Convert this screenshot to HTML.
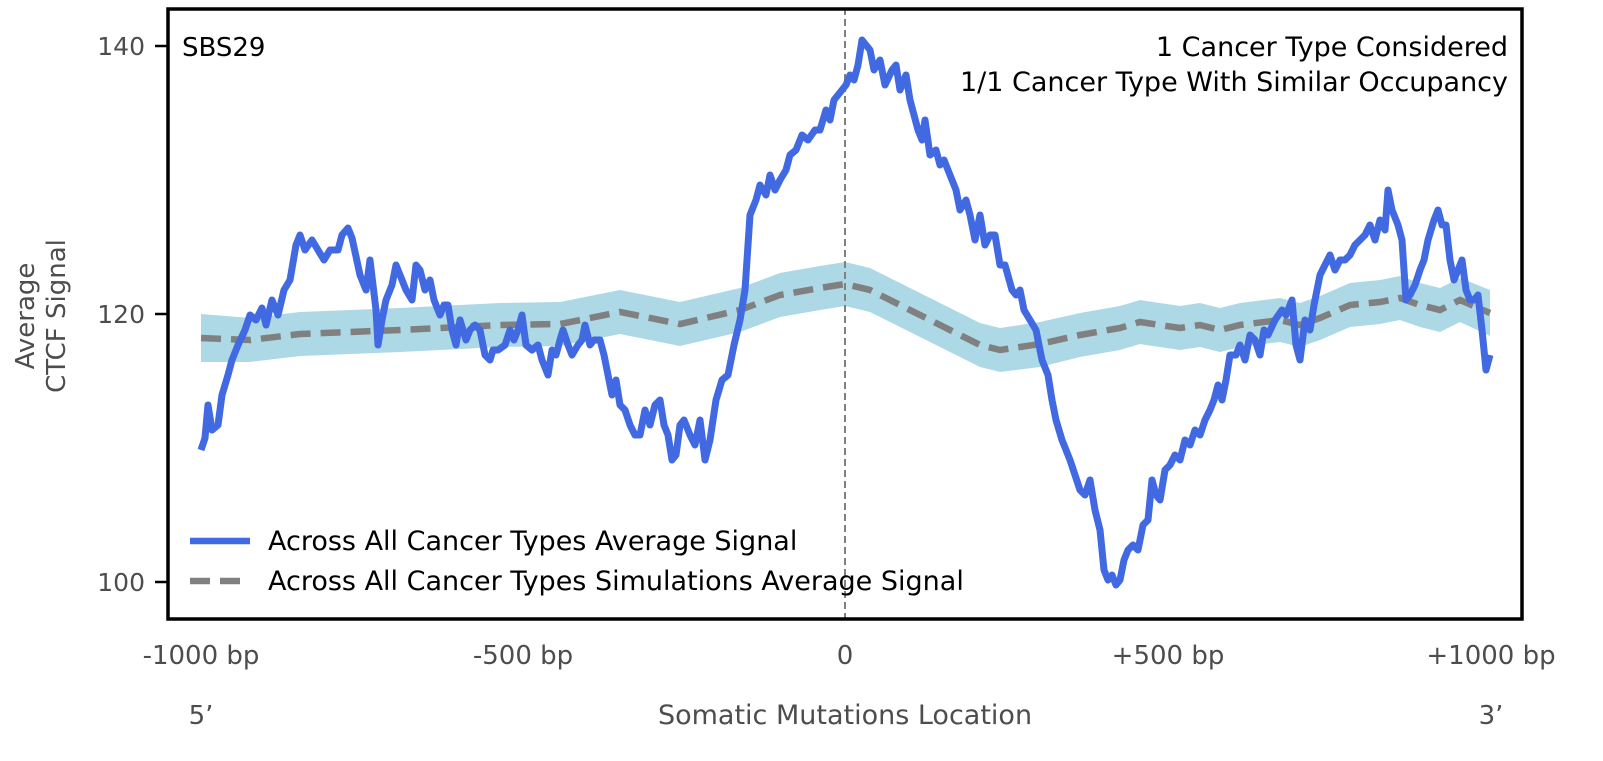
<!DOCTYPE html>
<html><head><meta charset="utf-8"><style>
html,body{margin:0;padding:0;background:#fff;}
svg text{font-family:"DejaVu Sans","Liberation Sans",sans-serif;}
</style></head><body>
<svg width="1603" height="756" viewBox="0 0 1603 756" xmlns="http://www.w3.org/2000/svg">
<rect width="1603" height="756" fill="#fff"/>
<path fill="#add8e6" d="M201,314 L250,318 L300,312 L400,308 L500,303 L560,302 L620,290 L680,302 L740,288 L780,273 L820,266 L845,262 L870,268 L900,283 L940,303 L980,323 L1000,328 L1040,322 L1080,313 L1120,306 L1140,300 L1180,306 L1200,303 L1220,308 L1240,303 L1280,298 L1300,303 L1320,296 L1350,283 L1380,280 L1400,276 L1420,283 L1440,288 L1460,278 L1490,290 L1490,336 L1460,322 L1440,332 L1420,327 L1400,320 L1380,324 L1350,327 L1320,340 L1300,347 L1280,342 L1240,347 L1220,352 L1200,347 L1180,350 L1140,344 L1120,350 L1080,357 L1040,367 L1000,372 L980,367 L940,347 L900,327 L870,312 L845,306 L820,310 L780,317 L740,332 L680,346 L620,334 L560,346 L500,347 L400,352 L300,356 L250,362 L201,362 Z"/>
<line x1="845" y1="8" x2="845" y2="620" stroke="#808080" stroke-width="2" stroke-dasharray="7,4"/>
<polyline fill="none" stroke="#808080" stroke-width="6.5" stroke-dasharray="20,10" points="201,338 250,340 300,334 400,330 500,325 560,324 620,312 680,324 740,310 780,295 820,288 845,284 870,290 900,305 940,325 980,345 1000,350 1040,344 1080,335 1120,328 1140,322 1180,328 1200,325 1220,330 1240,325 1280,320 1300,325 1320,318 1350,305 1380,302 1400,298 1420,305 1440,310 1460,300 1490,313"/>
<polyline fill="none" stroke="#4169e1" stroke-width="7" stroke-linejoin="round" points="201,450 205,438 208,405 212,430 218,425 222,395 228,375 232,360 238,345 245,330 250,315 256,320 262,308 266,325 272,300 278,315 284,290 290,280 296,245 300,235 305,250 312,240 318,250 324,260 330,250 338,250 342,235 348,228 352,238 360,275 366,290 370,260 376,310 378,345 382,320 386,300 392,285 396,265 400,275 406,290 412,300 416,265 420,270 425,290 430,280 434,300 440,315 444,305 448,305 452,330 456,345 460,320 466,340 470,330 475,325 480,330 485,355 490,360 493,350 498,350 505,345 510,330 514,340 518,330 522,315 526,345 532,350 538,345 542,360 548,375 552,350 556,355 560,340 563,330 568,345 572,355 578,345 582,340 585,325 590,345 594,340 600,340 604,355 608,375 612,395 616,380 620,405 625,410 630,425 635,435 640,435 645,410 650,425 655,405 660,400 664,425 668,435 672,460 676,455 680,425 684,420 690,435 695,445 700,420 705,460 710,440 716,400 722,380 728,375 734,345 740,320 745,290 750,215 756,200 760,185 766,195 770,175 775,190 780,180 786,170 790,155 796,150 802,135 808,140 815,130 820,130 826,110 830,120 834,100 838,95 842,90 846,85 850,75 854,80 858,65 862,40 866,45 870,50 874,70 880,60 885,85 892,70 896,65 900,90 906,75 910,100 914,115 918,130 922,140 925,120 930,155 936,150 940,165 944,160 950,175 956,190 960,210 966,200 970,215 975,240 980,215 985,245 990,235 995,235 1000,265 1005,265 1012,290 1016,295 1020,290 1024,310 1030,320 1036,330 1042,360 1048,375 1052,400 1056,420 1062,440 1066,450 1070,460 1075,475 1080,490 1085,495 1090,480 1095,510 1100,530 1104,570 1108,580 1112,575 1116,585 1120,580 1124,560 1128,550 1133,545 1138,550 1143,525 1148,520 1152,480 1156,495 1160,500 1165,470 1170,465 1175,455 1180,460 1185,440 1190,445 1195,430 1200,435 1205,420 1210,410 1214,400 1218,385 1222,400 1226,380 1230,355 1236,355 1240,345 1245,360 1250,335 1255,340 1260,355 1264,330 1268,335 1275,320 1282,310 1286,315 1292,300 1296,345 1300,360 1305,320 1310,330 1314,305 1320,275 1325,265 1330,255 1335,270 1340,260 1345,260 1350,255 1355,245 1360,240 1365,235 1370,225 1375,240 1380,220 1385,230 1388,190 1392,210 1398,225 1402,240 1406,300 1410,295 1415,285 1420,270 1424,260 1428,240 1434,220 1438,210 1442,225 1446,225 1450,260 1454,280 1458,270 1462,260 1466,290 1470,300 1474,300 1478,295 1482,330 1486,370 1490,355"/>
<rect x="168" y="9" width="1354" height="610" fill="none" stroke="#000" stroke-width="3.5"/>
<g stroke="#000" stroke-width="2.5">
<line x1="155" y1="46" x2="168" y2="46"/><line x1="155" y1="314" x2="168" y2="314"/><line x1="155" y1="582" x2="168" y2="582"/>
</g>
<g fill="#4d4d4d" font-size="25" text-anchor="end">
<text x="145" y="55">140</text><text x="145" y="323">120</text><text x="145" y="591">100</text>
</g>
<text transform="translate(42,316) rotate(-90)" text-anchor="middle" font-size="26" fill="#4d4d4d"><tspan x="0" dy="-8">Average</tspan><tspan x="0" dy="31">CTCF Signal</tspan></text>
<g fill="#4d4d4d" font-size="26" text-anchor="middle">
<text x="201" y="664">-1000 bp</text><text x="523" y="664">-500 bp</text><text x="845" y="664">0</text><text x="1168" y="664">+500 bp</text><text x="1491" y="664">+1000 bp</text>
<text x="201" y="724">5’</text><text x="845" y="724" font-size="27">Somatic Mutations Location</text><text x="1491" y="724">3’</text>
</g>
<text x="182" y="56" font-size="26" fill="#000">SBS29</text>
<g font-size="27" fill="#000" text-anchor="end">
<text x="1508" y="56">1 Cancer Type Considered</text>
<text x="1508" y="91">1/1 Cancer Type With Similar Occupancy</text>
</g>
<line x1="190" y1="541" x2="250" y2="541" stroke="#4169e1" stroke-width="6.5"/>
<line x1="190" y1="581" x2="250" y2="581" stroke="#808080" stroke-width="6.5" stroke-dasharray="20,10"/>
<g font-size="27" fill="#000">
<text x="268" y="550">Across All Cancer Types Average Signal</text>
<text x="268" y="590">Across All Cancer Types Simulations Average Signal</text>
</g>
</svg>
</body></html>
